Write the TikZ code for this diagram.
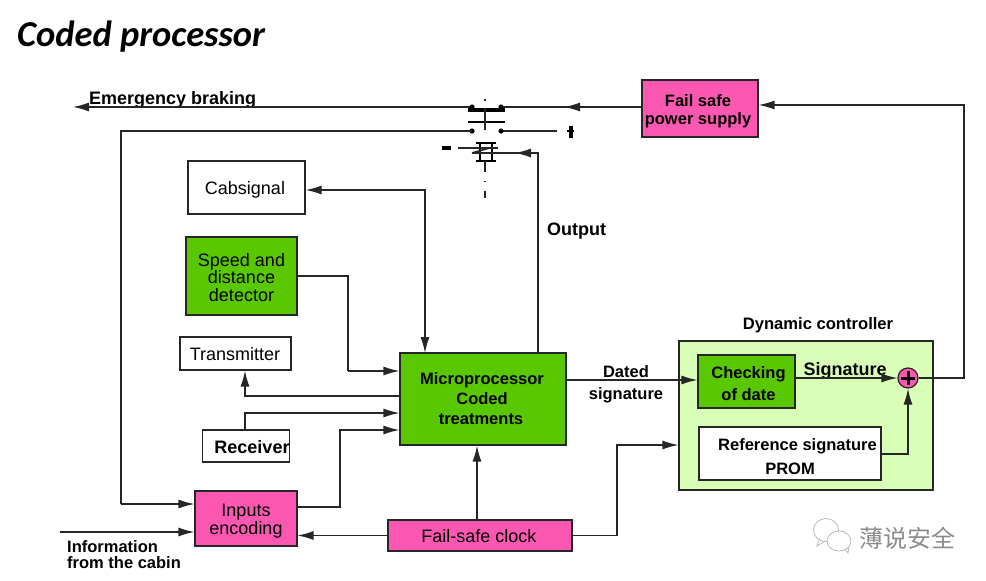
\documentclass[tikz,border=0pt]{standalone}
\usepackage{fontspec}
\setmainfont{Liberation Sans}
\newfontfamily\titlefont{Carlito}
\newfontfamily\cjkfont{Noto Sans CJK SC}
\usetikzlibrary{arrows.meta}

\definecolor{hotpink}{RGB}{252,88,178}
\definecolor{leafgreen}{RGB}{90,200,0}
\definecolor{palegreen}{RGB}{216,254,184}

% Taller first line, pushes the text of a block down
\newcommand{\lowerby}[1]{\rule{0pt}{#1pt}}

\tikzset{
    block/.style={draw=black!85, line width=1.2pt, inner sep=0pt, align=center, font=\fontsize{18}{17.5}\selectfont},
    label/.style={inner sep=0pt, align=center, font=\fontsize{17}{22}\selectfont\bfseries},
    wire/.style={draw=black!85, line width=1.3pt},
    arrow/.style={wire, -{Latex[length=16pt,width=9pt]}},
    contact/.style={black, line width=2.8pt}
}

\begin{document}
\begin{tikzpicture}[x=1pt, y=-1pt]
    \useasboundingbox (0,0) rectangle (986,581);

    % Title
    \node[anchor=west, inner sep=0pt, font=\fontsize{36.5}{36}\selectfont\titlefont\bfseries\itshape] (title) at (17,37) {Coded processor};

    % Controller frame goes first
    \node[block, fill=palegreen, minimum width=254pt, minimum height=149pt] (controller) at (806,415.5) {};

    % Blocks
    \node[block, fill=hotpink, minimum width=116pt, minimum height=57pt, font=\fontsize{16.5}{18}\selectfont\bfseries] (power) at (700,108.5) {\lowerby{17}\hspace*{-4pt}Fail safe\\\hspace*{-4pt}power supply};
    \node[block, minimum width=117pt, minimum height=53pt] (cabsignal) at (246.5,187.5) {\lowerby{17}\hspace*{-3pt}Cabsignal};
    \node[block, fill=leafgreen, minimum width=111pt, minimum height=78pt] (speed) at (241.5,276) {\lowerby{16}Speed and\\distance\\detector};
    \node[block, minimum width=111pt, minimum height=33pt] (transmitter) at (235.5,353.5) {\lowerby{14}\hspace*{-1pt}Transmitter};
    \node[block, minimum width=86pt, minimum height=32pt, font=\fontsize{18}{18}\selectfont\bfseries] (receiver) at (246,446) {\lowerby{15}\hspace*{12pt}Receiver};
    \node[block, fill=hotpink, minimum width=102pt, minimum height=55pt] (inputs) at (246,518.5) {\lowerby{18}Inputs\\encoding};
    \node[block, fill=leafgreen, minimum width=166pt, minimum height=92pt, font=\fontsize{16.5}{20}\selectfont\bfseries] (micro) at (483,399) {\hspace*{-2pt}Microprocessor\\\hspace*{-2pt}Coded\\\hspace*{-4pt}treatments};
    \node[block, fill=hotpink, minimum width=184pt, minimum height=31pt] (clock) at (480,535.5) {\lowerby{15}\hspace*{-2pt}Fail-safe clock};
    \node[block, fill=leafgreen, minimum width=97pt, minimum height=53pt, font=\fontsize{16.5}{22}\selectfont\bfseries] (checking) at (746.5,381.5) {\lowerby{16}\hspace*{4pt}Checking\\\hspace*{4pt}of date};
    \node[block, fill=white, minimum width=182pt, minimum height=53pt, font=\fontsize{16.5}{24}\selectfont\bfseries] (reference) at (790,453.5) {\lowerby{19}\hspace*{15pt}Reference signature\\PROM};
    \node[circle, draw=black!85, fill=hotpink, line width=1.2pt, minimum size=20pt, inner sep=0pt] (adder) at (908,378) {};

    % Labels
    \node[label, anchor=west, font=\fontsize{18}{22}\selectfont\bfseries] (emergency) at (89,100) {Emergency braking};
    \node[label, anchor=west, font=\fontsize{18}{22}\selectfont\bfseries] (output) at (547,231.5) {Output};
    \node[label, font=\fontsize{16.5}{22}\selectfont\bfseries] (dated) at (626,384) {Dated\\signature};
    \node[label, font=\fontsize{16.6}{16}\selectfont\bfseries] (dynamic) at (818,325) {Dynamic controller};
    \node[label, font=\fontsize{18}{17}\selectfont\bfseries] (signature) at (845,371) {Signature};
    \node[label, anchor=north west, font=\fontsize{16.5}{16}\selectfont\bfseries, align=left] (cabin) at (67,540) {Information\\from the cabin};

    % Plus of the adder
    \draw[line width=3pt] (adder.center) ++(-7,0) -- ++(14,0) (adder.center) ++(0,-7) -- ++(0,14);

    % Free ends around the relay
    \coordinate (emergencyend) at (73,107);
    \coordinate (dotleft) at (472,107);
    \coordinate (dotright) at (501,107);
    \coordinate (midarrow) at (564,107);
    \coordinate (lowleft) at (472,131);
    \coordinate (lowright) at (501,131);
    \coordinate (plusend) at (557,131);
    \coordinate (coilin) at (515,153);
    \coordinate (coilcorner) at (538,153);

    % Relay contacts
    \draw[arrow] (dotleft) -- (emergencyend);
    \draw[wire] (power.west |- midarrow) -- (dotright);
    \draw[arrow] (power.west |- midarrow) -- (midarrow);
    \draw[wire] (lowright) -- (plusend);
    \fill (dotleft) circle (2.6pt) (dotright) circle (2.6pt) (lowleft) circle (2.6pt) (lowright) circle (2.6pt);
    \draw[contact, line width=3.2pt] (468,110) -- (505,110);
    \draw[contact] (468,122) -- (505,122);
    \draw[wire] (485,108) -- (485,130);
    \draw[wire] (485,99) -- (485,100.5);
    \draw[contact] (567,131) -- (574,131);
    \draw[contact, line width=3.2pt] (571,126) -- (571,138);
    \draw[contact, line width=3.2pt] (442,148) -- (451,148);

    % Relay coil
    \draw[contact] (476,143) -- (496,143);
    \draw[contact] (476,161) -- (496,161);
    \draw[contact] (480,143) -- (480,161) (492,143) -- (492,161);
    \draw[wire] (458,148) -- (498,148);
    \draw[wire, line width=1.6pt] (472,153) -- (493,147);
    \draw[wire] (485,161) -- (485,172);
    \draw[wire] (485,181) -- (485,182);
    \draw[wire] (485,191) -- (485,198);

    % Connectors
    \draw[wire] (472,153) -- (coilcorner) -- (coilcorner |- micro.north);
    \draw[arrow] (coilcorner) -- (coilin);
    \draw[wire] (lowleft) -| (121,504);
    \draw[arrow] (121,504) -- (inputs.west |- 0,504);
    \draw[arrow, {Latex[length=16pt,width=9pt]}-{Latex[length=16pt,width=9pt]}] (cabsignal.east |- 0,190) -- (425,190) -- (425,353);
    \draw[wire] (speed.east |- 0,276) -- (348,276) -- (348,371);
    \draw[arrow] (348,371) -- (micro.west |- 0,371);
    \draw[arrow] (micro.west |- 0,396) -- (245,396) -- (transmitter.south -| 245,0);
    \draw[arrow] (receiver.north -| 245,0) -- (245,413) -- (micro.west |- 0,413);
    \draw[arrow] (inputs.east |- 0,507) -- (340,507) -- (340,430) -- (micro.west |- 0,430);
    \draw[arrow] (60,532) -- (inputs.west |- 0,532);
    \draw[arrow] (clock.west) -- (inputs.east |- clock.west);
    \draw[arrow] (clock.north -| 477,0) -- (micro.south -| 477,0);
    \draw[arrow] (clock.east) -- (617,535.5) -- (617,445) -- (controller.west |- 0,445);
    \draw[arrow] (micro.east |- 0,380) -- (checking.west |- 0,380);
    \draw[arrow] (checking.east |- adder) -- (adder.west);
    \draw[arrow] (reference.east |- 0,454) -- (908,454) -- (adder.south);
    \draw[arrow] (adder.east) -- (964,378) -- (964,105) -- (power.east |- 0,105);

    % Chat bubbles next to the signature text
    \draw[black!30, line width=0.7pt, fill=white] (826,530) ellipse (12.5pt and 11.5pt);
    \draw[black!30, line width=0.7pt] (819,540) -- (817,546) -- (825,541);
    \draw[black!30, line width=0.7pt, fill=white] (839,541) ellipse (12pt and 10pt);
    \draw[black!30, line width=0.7pt] (845,549) -- (848,553) -- (849,547);
    \node[inner sep=0pt, text=black!45, font=\fontsize{24}{24}\selectfont\cjkfont] (stamp) at (907.5,538) {薄说安全};
\end{tikzpicture}
\end{document}
